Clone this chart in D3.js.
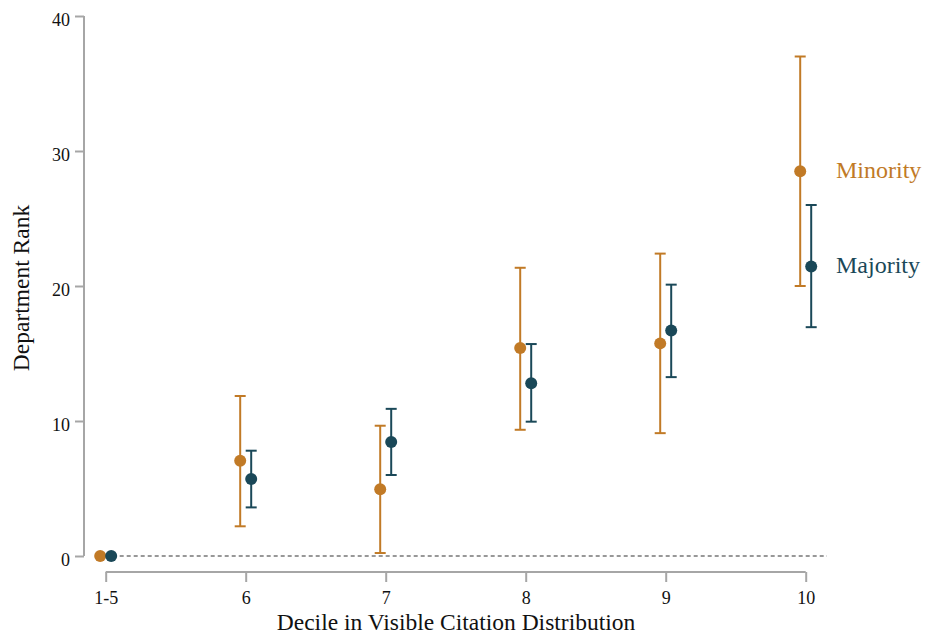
<!DOCTYPE html>
<html>
<head>
<meta charset="utf-8">
<script src="https://cdn.jsdelivr.net/npm/d3@7"></script>
<style>
  body { margin: 0; background: #fff; }
  svg text { font-family: "Liberation Serif", "DejaVu Serif", serif !important; }
</style>
</head>
<body>
<script>
// deciles on the x axis
var deciles = ['1-5', '6', '7', '8', '9', '10'];

// minority: point estimate and confidence interval
var minorityRank = [0, 7.05, 4.95, 15.4, 15.75, 28.5];
var minorityLow  = [null, 2.2, 0.22, 9.35, 9.1, 20.0];
var minorityHigh = [null, 11.85, 9.65, 21.35, 22.4, 37.0];

// majority: point estimate and confidence interval
var majorityRank = [0, 5.7, 8.45, 12.8, 16.7, 21.45];
var majorityLow  = [null, 3.6, 6.0, 9.95, 13.25, 16.95];
var majorityHigh = [null, 7.8, 10.9, 15.7, 20.1, 26.0];

var yTicks = [0, 10, 20, 30, 40];

var width = 925, height = 637;

var svg = d3.select('body').append('svg')
  .attr('width', width)
  .attr('height', height);

// x is a point scale over the decile labels
var x = d3.scalePoint()
  .domain(deciles)
  .range([105.7, 805.7]);

var y = d3.scaleLinear()
  .domain([0, 40])
  .range([556, 16]);

var axisColor = '#a6a6a6';

// y axis
var yAxis = svg.append('g')
  .attr('transform', 'translate(84,0)')
  .call(d3.axisLeft(y).tickValues(yTicks).tickSize(9).tickPadding(5));
yAxis.select('.domain').attr('d', 'M0,' + y(40) + 'V' + y(0)).attr('stroke', axisColor).attr('stroke-width', 2);
yAxis.selectAll('.tick line').attr('stroke', axisColor).attr('stroke-width', 2);
yAxis.selectAll('.tick text').attr('font-size', 18).attr('fill', '#111').attr('dy', '0.5em');

// x axis
var xAxis = svg.append('g')
  .attr('transform', 'translate(0,572)')
  .call(d3.axisBottom(x).tickSize(10).tickPadding(9));
xAxis.select('.domain').attr('d', 'M' + x('1-5') + ',0H' + x('10')).attr('stroke', axisColor).attr('stroke-width', 2);
xAxis.selectAll('.tick line').attr('stroke', axisColor).attr('stroke-width', 2);
xAxis.selectAll('.tick text').attr('font-size', 18).attr('fill', '#111');

// dashed reference line at zero
svg.append('line')
  .attr('x1', x('1-5')).attr('x2', 827)
  .attr('y1', y(0)).attr('y2', y(0))
  .attr('stroke', '#777')
  .attr('stroke-width', 1.3)
  .attr('stroke-dasharray', '4,3');

// axis titles
svg.append('text')
  .attr('x', 456).attr('y', 630)
  .attr('text-anchor', 'middle')
  .attr('font-size', 23.5)
  .attr('fill', '#111')
  .text('Decile in Visible Citation Distribution');

svg.append('text')
  .attr('transform', 'translate(29,288) rotate(-90)')
  .attr('text-anchor', 'middle')
  .attr('font-size', 23.5)
  .attr('fill', '#111')
  .text('Department Rank');

var series = [
  { name: 'Minority', color: '#c17a26', offset: -5.5, rank: minorityRank, low: minorityLow, high: minorityHigh },
  { name: 'Majority', color: '#1a4858', offset: 5.5, rank: majorityRank, low: majorityLow, high: majorityHigh }
];

series.forEach(function(s) {
  var g = svg.append('g');
  var pts = deciles.map(function(d, i) {
    return { d: d, rank: s.rank[i], low: s.low[i], high: s.high[i] };
  });
  var withCi = pts.filter(function(p) { return p.low !== null; });

  // error bars
  g.selectAll('line.ci').data(withCi).enter().append('line')
    .attr('x1', function(p) { return x(p.d) + s.offset; })
    .attr('x2', function(p) { return x(p.d) + s.offset; })
    .attr('y1', function(p) { return y(p.low); })
    .attr('y2', function(p) { return y(p.high); })
    .attr('stroke', s.color).attr('stroke-width', 2);

  // caps
  ['low', 'high'].forEach(function(k) {
    g.selectAll('line.cap-' + k).data(withCi).enter().append('line')
      .attr('x1', function(p) { return x(p.d) + s.offset - 5.5; })
      .attr('x2', function(p) { return x(p.d) + s.offset + 5.5; })
      .attr('y1', function(p) { return y(p[k]); })
      .attr('y2', function(p) { return y(p[k]); })
      .attr('stroke', s.color).attr('stroke-width', 2);
  });

  // points
  g.selectAll('circle').data(pts).enter().append('circle')
    .attr('cx', function(p) { return x(p.d) + s.offset; })
    .attr('cy', function(p) { return y(p.rank); })
    .attr('r', 6)
    .attr('fill', s.color);

  // label next to the last point
  svg.append('text')
    .attr('x', 836)
    .attr('y', y(s.rank[s.rank.length - 1]) + 7)
    .attr('font-size', 24)
    .attr('fill', s.color)
    .text(s.name);
});
</script>
</body>
</html>
